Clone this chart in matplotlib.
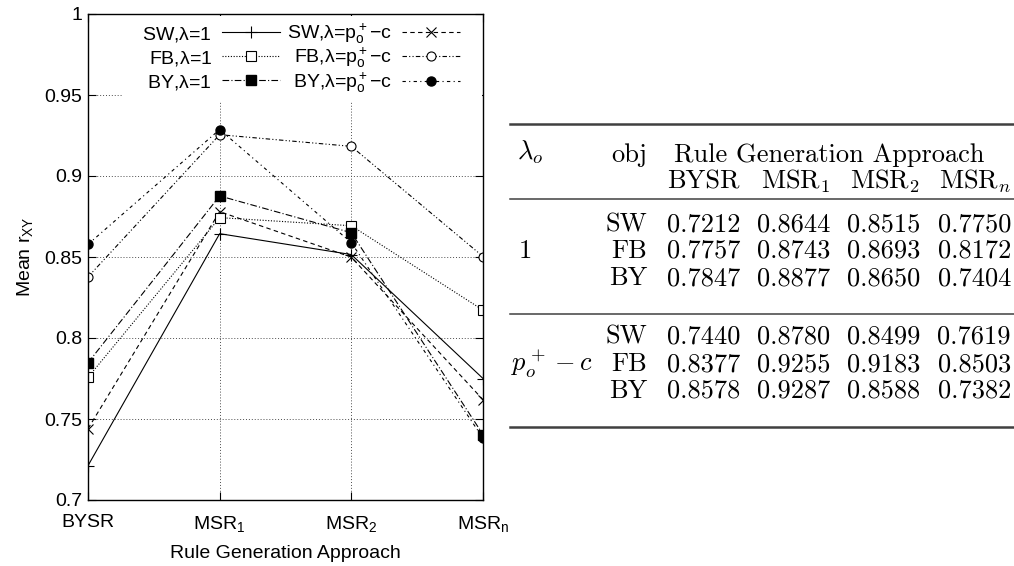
import numpy as np
import matplotlib
matplotlib.use("Agg")
import matplotlib.pyplot as plt
from matplotlib.lines import Line2D

plt.rcParams['font.family'] = ['Liberation Sans', 'DejaVu Sans']
plt.rcParams['mathtext.fontset'] = 'custom'
plt.rcParams['mathtext.rm'] = 'Liberation Sans'
plt.rcParams['mathtext.it'] = 'Liberation Sans'
plt.rcParams['axes.unicode_minus'] = False

# data
approaches = ["BYSR", "MSR$_1$", "MSR$_2$", "MSR$_n$"]
table_heads = ["BYSR", "MSR$_1$", "MSR$_2$", "MSR$_n$"]
sw_1 = [0.7212, 0.8644, 0.8515, 0.7750]
fb_1 = [0.7757, 0.8743, 0.8693, 0.8172]
by_1 = [0.7847, 0.8877, 0.8650, 0.7404]
sw_p = [0.7440, 0.8780, 0.8499, 0.7619]
fb_p = [0.8377, 0.9255, 0.9183, 0.8503]
by_p = [0.8578, 0.9287, 0.8588, 0.7382]
objs = ["SW", "FB", "BY"]

W, H = 1014, 566
fig = plt.figure(figsize=(W / 100, H / 100), dpi=100)
ax = fig.add_axes([88 / W, 1 - 500 / H, (483 - 88) / W, (500 - 14) / H])

x = np.arange(len(approaches))
lw = 0.8
l1 = ax.plot(x, sw_1, color='k', lw=lw, ls='-', marker='+', ms=8, mew=0.8, label=r"SW,$\lambda$=1")[0]
p1 = ax.plot(x, sw_p, color='k', lw=lw, ls=(0, (4, 3)), marker='x', ms=6.5, mew=0.8, label=r"SW,$\lambda$=p$_o^+$$-$c")[0]
l2 = ax.plot(x, fb_1, color='k', lw=lw, ls=(0, (1, 1.5)), marker='s', ms=6.5, mfc='white', mew=0.8, label=r"FB,$\lambda$=1")[0]
p2 = ax.plot(x, fb_p, color='k', lw=lw, ls=(0, (4, 2, 1, 2, 1, 2)), marker='o', ms=6.5, mfc='white', mew=0.8, label=r"FB,$\lambda$=p$_o^+$$-$c")[0]
l3 = ax.plot(x, by_1, color='k', lw=lw, ls=(0, (6, 2, 1, 2)), marker='s', ms=7, mfc='k', label=r"BY,$\lambda$=1")[0]
p3 = ax.plot(x, by_p, color='k', lw=lw, ls=(0, (3, 3, 1, 3)), marker='o', ms=6.5, mfc='k', label=r"BY,$\lambda$=p$_o^+$$-$c")[0]

ax.set_xlim(0, 3)
ax.set_ylim(0.7, 1.0)
ax.set_xticks(x)
ax.set_xticklabels(approaches, fontsize=14)
ax.set_yticks([0.7, 0.75, 0.8, 0.85, 0.9, 0.95, 1.0])
ax.set_yticklabels(["0.7", "0.75", "0.8", "0.85", "0.9", "0.95", "1"], fontsize=14)
ax.tick_params(direction='in', top=True, right=True, length=6, width=0.8)
ax.tick_params(axis='x', pad=10)
ax.tick_params(axis='y', pad=4)
ax.grid(True, color='0.3', ls=(0, (1, 2)), lw=0.7)
ax.set_axisbelow(True)
for s in ax.spines.values():
    s.set_linewidth(1.0)
ax.set_xlabel("Rule Generation Approach", fontsize=14, labelpad=8)
ax.set_ylabel("Mean r$_{XY}$", fontsize=14, labelpad=7)

# opaque key area hides the grid behind it
ax.axhspan(0.946, 0.999, xmin=0.086, xmax=0.997, color='white', zorder=1, lw=0)

common = dict(markerfirst=False, loc='upper right', fontsize=14, frameon=False,
              handlelength=3.0, handletextpad=0.5, borderpad=0, borderaxespad=0)
leg1 = ax.legend([l1, l2, l3], [h.get_label() for h in (l1, l2, l3)],
                 bbox_to_anchor=(0.486, 0.978), labelspacing=0.26, **common)
ax.add_artist(leg1)
leg2 = ax.legend([p1, p2, p3], [h.get_label() for h in (p1, p2, p3)],
                 bbox_to_anchor=(0.942, 0.984), labelspacing=0.0, **common)

# table on the right
def fx(px):
    return px / W

def fy(py):
    return 1 - py / H

fs = 19
tfont = dict(fontsize=fs, family='cmr10', va='baseline')
mt = dict(fontsize=fs, va='baseline', math_fontfamily='cm')

def rule(py, lw):
    fig.add_artist(Line2D([fx(510), fx(1016)], [fy(py), fy(py)], color='0.25', lw=lw))

rule(124, 1.8)
rule(199, 1.1)
rule(314, 1.1)
rule(427, 1.8)

col_r = [740, 830, 920, 1011]
fig.text(fx(517), fy(160), r"$\lambda_o$", ha='left', **mt)
fig.text(fx(647), fy(162), "obj", ha='right', **tfont)
fig.text(fx(829), fy(162), "Rule Generation Approach", ha='center', **tfont)
for cx, h in zip(col_r, table_heads):
    fig.text(fx(cx), fy(189), h, ha='right', math_fontfamily='cm', **tfont)

groups = [("$1$", 518, [sw_1, fb_1, by_1], [231, 258, 285]),
          (r"$p_o^+ - c$", 511, [sw_p, fb_p, by_p], [344, 371, 398])]
for lam, lx, rows, ys in groups:
    fig.text(fx(lx), fy(ys[1]), lam, ha='left', **mt)
    for name, vals, yy in zip(objs, rows, ys):
        fig.text(fx(647), fy(yy), name, ha='right', **tfont)
        for cx, v in zip(col_r, vals):
            fig.text(fx(cx), fy(yy), f"{v:.4f}", ha='right', **tfont)

fig.savefig("out.png", dpi=100)
